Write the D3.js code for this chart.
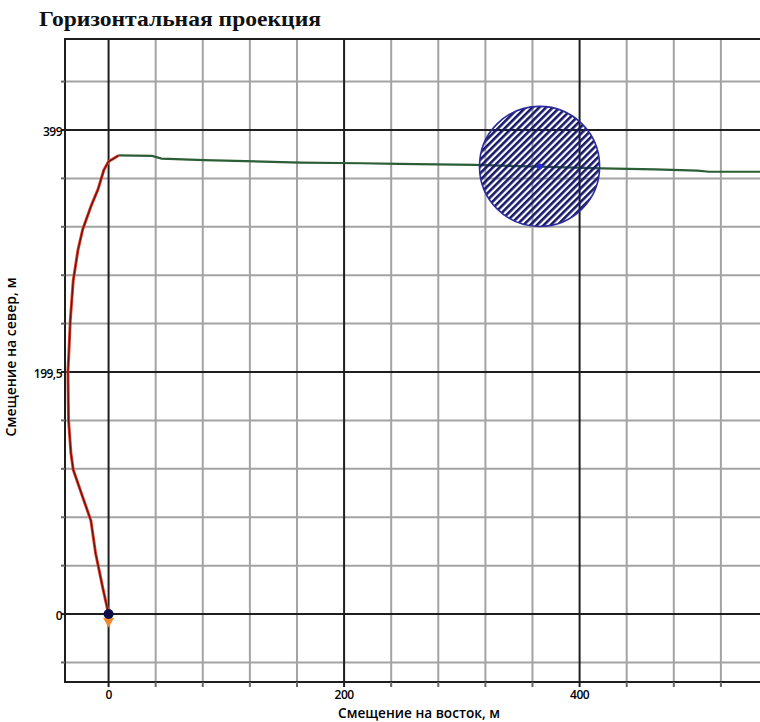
<!DOCTYPE html>
<html>
<head>
<meta charset="utf-8">
<script src="https://cdn.jsdelivr.net/npm/d3@7"></script>
<style>
  body { margin: 0; background: #fff; }
  svg { display: block; }
</style>
</head>
<body>
<svg id="chart"></svg>
<script>
const width = 760;
const height = 722;

// данные траектории (восток, север), м
var buildEast  = [0, -5, -11, -15, -20, -25, -30, -32, -34, -34.5, -33.5, -32.5, -30, -26, -22, -15, -9, -4, 0, 8.5];
var buildNorth = [0, 22, 50, 77, 91, 105, 119, 133, 160, 199.5, 220, 242, 275, 300, 317, 336, 350, 366, 373, 378];
var holdEast   = [8.5, 37, 45, 81, 163, 215, 246, 311, 366, 419, 464, 500, 510, 560];
var holdNorth  = [378, 377.6, 375.4, 374.2, 372.1, 371.6, 371, 370.2, 368.8, 367.4, 366.6, 365.5, 364.6, 364.6];

// цель
var targetEast = 366, targetNorth = 369, targetRadius = 51;

// оси
var xMajor = [0, 200, 400];
var xMinor = [40, 80, 120, 160, 240, 280, 320, 360, 440, 480, 520, 560];
var xTickLabels = ["0", "200", "400"];
var yMajor = [0, 199.5, 399];
var yMinor = [-39.9, 39.9, 79.8, 119.7, 159.6, 239.4, 279.3, 319.2, 359.1, 438.9];
var yTickLabels = ["0", "199,5", "399"];

var margin = {left: 65, top: 39, right: -8, bottom: 40};

var x = d3.scaleLinear().domain([-37, 560]).range([margin.left, width - margin.right]);
var y = d3.scaleLinear().domain([-56, 474]).range([height - margin.bottom, margin.top]);

var svg = d3.select("#chart").attr("width", width).attr("height", height);

var defs = svg.append("defs");
defs.append("pattern")
    .attr("id", "hatch")
    .attr("patternUnits", "userSpaceOnUse")
    .attr("width", 4.8)
    .attr("height", 5)
    .attr("patternTransform", "rotate(45)")
  .append("rect")
    .attr("width", 2.6)
    .attr("height", 5)
    .attr("fill", "#18186a");

defs.append("clipPath").attr("id", "plotclip")
  .append("rect")
    .attr("x", margin.left).attr("y", margin.top)
    .attr("width", width - margin.left + 20).attr("height", height - margin.bottom - margin.top);

var grid = svg.append("g");

// minor grid
grid.selectAll(".vminor").data(xMinor).enter().append("line")
    .attr("x1", d => x(d)).attr("x2", d => x(d))
    .attr("y1", margin.top).attr("y2", y(-56))
    .attr("stroke", "#a3a3a3").attr("stroke-width", 2);
grid.selectAll(".hminor").data(yMinor).enter().append("line")
    .attr("x1", margin.left).attr("x2", width)
    .attr("y1", d => y(d)).attr("y2", d => y(d))
    .attr("stroke", "#a3a3a3").attr("stroke-width", 2);

// major grid
grid.selectAll(".vmajor").data(xMajor).enter().append("line")
    .attr("x1", d => x(d)).attr("x2", d => x(d))
    .attr("y1", margin.top).attr("y2", y(-56))
    .attr("stroke", "#1e1e1e").attr("stroke-width", 2);
grid.selectAll(".hmajor").data(yMajor).enter().append("line")
    .attr("x1", margin.left).attr("x2", width)
    .attr("y1", d => y(d)).attr("y2", d => y(d))
    .attr("stroke", "#1e1e1e").attr("stroke-width", 2);

// рамка
svg.append("path")
    .attr("d", "M" + width + "," + margin.top + "H" + margin.left + "V" + y(-56) + "H" + width)
    .attr("fill", "none").attr("stroke", "#1e1e1e").attr("stroke-width", 2);

// ticks
svg.append("g").selectAll("line").data(xMajor.concat(xMinor)).enter().append("line")
    .attr("x1", d => x(d)).attr("x2", d => x(d))
    .attr("y1", y(-56)).attr("y2", y(-56) + 5)
    .attr("stroke", d => xMajor.indexOf(d) >= 0 ? "#1e1e1e" : "#666").attr("stroke-width", 2);
svg.append("g").selectAll("line").data(yMajor.concat(yMinor)).enter().append("line")
    .attr("x1", margin.left - 4).attr("x2", margin.left)
    .attr("y1", d => y(d)).attr("y2", d => y(d))
    .attr("stroke", d => yMajor.indexOf(d) >= 0 ? "#1e1e1e" : "#666").attr("stroke-width", 2);

// tick labels
svg.append("g").selectAll("text").data(xMajor).enter().append("text")
    .attr("x", d => x(d)).attr("y", y(-56) + 17)
    .attr("text-anchor", "middle")
    .style("font-family", "Open Sans").style("font-size", "12px").style("font-weight", 600)
    .style("letter-spacing", "-0.5px")
    .text((d, i) => xTickLabels[i]);
svg.append("g").selectAll("text").data(yMajor).enter().append("text")
    .attr("x", margin.left - 3).attr("y", d => y(d) + 6)
    .attr("text-anchor", "end")
    .style("font-family", "Open Sans").style("font-size", "12px").style("font-weight", 600)
    .style("letter-spacing", "-0.5px")
    .text((d, i) => yTickLabels[i]);

// подписи осей
svg.append("text")
    .attr("x", 419).attr("y", 718)
    .attr("text-anchor", "middle")
    .attr("textLength", 162).attr("lengthAdjust", "spacingAndGlyphs")
    .style("font-family", "Open Sans").style("font-size", "13.5px").style("font-weight", 600)
    .text("Смещение на восток, м");
svg.append("text")
    .attr("transform", "translate(16,357) rotate(-90)")
    .attr("text-anchor", "middle")
    .attr("textLength", 159).attr("lengthAdjust", "spacingAndGlyphs")
    .style("font-family", "Open Sans").style("font-size", "13.5px").style("font-weight", 600)
    .text("Смещение на север, м");

// заголовок
svg.append("text")
    .attr("x", 39).attr("y", 26)
    .attr("textLength", 282).attr("lengthAdjust", "spacingAndGlyphs")
    .style("font-family", "Liberation Serif").style("font-weight", "bold").style("font-size", "22px")
    .style("fill", "#111")
    .text("Горизонтальная проекция");

var plot = svg.append("g").attr("clip-path", "url(#plotclip)");

var line = d3.line().x(d => x(d[0])).y(d => y(d[1]));
var build = d3.zip(buildEast, buildNorth);
var hold = d3.zip(holdEast, holdNorth);

plot.append("path").datum(hold).attr("d", line)
    .attr("fill", "none").attr("stroke", "#2c5e36").attr("stroke-width", 2.2);
plot.append("path").datum(build).attr("d", line)
    .attr("fill", "none").attr("stroke", "#dd4a3c").attr("stroke-width", 3).attr("stroke-linejoin", "round");
plot.append("path").datum(build).attr("d", line)
    .attr("fill", "none").attr("stroke", "#6e1208").attr("stroke-width", 1.4).attr("stroke-linejoin", "round");

// цель
var rpx = x(targetEast + targetRadius) - x(targetEast);
plot.append("circle")
    .attr("cx", x(targetEast)).attr("cy", y(targetNorth)).attr("r", rpx)
    .attr("fill", "url(#hatch)").attr("stroke", "#2b2b9c").attr("stroke-width", 1.6);
plot.append("circle")
    .attr("cx", x(targetEast)).attr("cy", y(targetNorth)).attr("r", 3)
    .attr("fill", "#2a2ad8");

// устье
plot.append("path")
    .attr("d", d3.symbol(d3.symbolTriangle, 55)())
    .attr("transform", "translate(" + x(0) + "," + (y(0) + 7) + ") rotate(180)")
    .attr("fill", "#f08a30");
plot.append("circle")
    .attr("cx", x(0)).attr("cy", y(0)).attr("r", 5)
    .attr("fill", "#0c0c4a");
</script>
</body>
</html>
